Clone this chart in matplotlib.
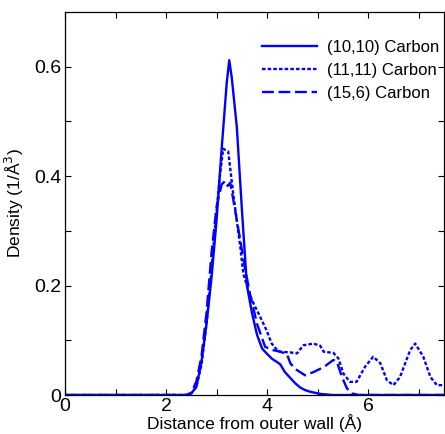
import matplotlib
matplotlib.use("Agg")
import matplotlib.pyplot as plt
import numpy as np

plt.rcParams['font.family'] = ['Liberation Sans', 'DejaVu Sans']

# (10,10) Carbon - solid
x_1010 = [0, 2.4, 2.5, 2.6, 2.7, 2.8, 2.9, 3.0, 3.1, 3.2, 3.25, 3.3, 3.4, 3.5, 3.6, 3.7, 3.8,
          3.9, 4.0, 4.1, 4.2, 4.26, 4.35, 4.46, 4.55, 4.65, 4.75, 4.85, 5.05, 5.3, 7.5]
y_1010 = [0, 0, 0.003, 0.015, 0.06, 0.13, 0.215, 0.32, 0.45, 0.57, 0.612, 0.58, 0.49, 0.34, 0.20,
          0.15, 0.11, 0.085, 0.075, 0.066, 0.060, 0.056, 0.042, 0.031, 0.022, 0.014, 0.009, 0.006,
          0.002, 0, 0]

# (11,11) Carbon - dotted
x_1111 = [0, 2.4, 2.5, 2.6, 2.7, 2.8, 2.9, 2.97, 3.06, 3.13, 3.23, 3.33, 3.47, 3.53, 3.63, 3.70,
          3.83, 3.99, 4.09, 4.2, 4.26, 4.45, 4.59, 4.72, 4.92, 5.05, 5.12, 5.31, 5.41, 5.51, 5.64,
          5.77, 5.94, 6.10, 6.24, 6.37, 6.50, 6.63, 6.83, 6.93, 7.09, 7.23, 7.36, 7.52]
y_1111 = [0, 0, 0.003, 0.015, 0.055, 0.13, 0.23, 0.306, 0.397, 0.45, 0.445, 0.367, 0.27, 0.221,
          0.191, 0.173, 0.149, 0.118, 0.094, 0.082, 0.079, 0.078, 0.076, 0.091, 0.094, 0.09,
          0.079, 0.077, 0.067, 0.039, 0.024, 0.024, 0.052, 0.070, 0.058, 0.027, 0.018, 0.033,
          0.082, 0.094, 0.070, 0.033, 0.018, 0.018]

# (15,6) Carbon - dashed
x_156 = [0, 2.4, 2.5, 2.6, 2.7, 2.8, 2.9, 3.0, 3.1, 3.17, 3.22, 3.27, 3.37, 3.47, 3.56, 3.66,
         3.8, 3.96, 4.12, 4.26, 4.39, 4.46, 4.55, 4.65, 4.75, 4.92, 5.12, 5.31, 5.38, 5.48,
         5.58, 5.68, 5.8, 7.5]
y_156 = [0, 0, 0.004, 0.025, 0.07, 0.15, 0.26, 0.345, 0.385, 0.391, 0.382, 0.388, 0.336, 0.282,
         0.233, 0.185, 0.13, 0.088, 0.082, 0.079, 0.075, 0.058, 0.048, 0.042, 0.036, 0.042,
         0.051, 0.064, 0.061, 0.033, 0.012, 0.003, 0, 0]

labels = ['(10,10) Carbon', '(11,11) Carbon', '(15,6) Carbon']
xticks = [0, 1, 2, 3, 4, 5, 6, 7]
xticklabels = ['0', '', '2', '', '4', '', '6', '']
yticks = [0, 0.1, 0.2, 0.3, 0.4, 0.5, 0.6]
yticklabels = ['0', '', '0.2', '', '0.4', '', '0.6']

fig = plt.figure(figsize=(4.45, 4.34), dpi=100)
ax = fig.add_axes([65/445, 1-395/434, 379/445, 383/434])
blue = '#0000ff'
ax.plot(x_1010, y_1010, color=blue, lw=1.7, ls='-', label=labels[0])
ax.plot(x_1111, y_1111, color=blue, lw=1.7, ls=(0, (1.5, 0.9)), label=labels[1])
ax.plot(x_156, y_156, color=blue, lw=1.7, ls=(0, (5, 2)), label=labels[2])

ax.set_xlim(0, 7.5)
ax.set_ylim(0, 0.7)
ax.set_xticks(xticks)
ax.set_xticklabels(xticklabels)
ax.set_yticks(yticks)
ax.set_yticklabels(yticklabels)
ax.tick_params(direction='in', top=True, right=True, length=4, width=0.8,
               labelsize=14, pad=2.5)
for s in ax.spines.values():
    s.set_linewidth(0.9)

ax.set_xlabel('Distance from outer wall (Å)', fontsize=12.5, labelpad=-1)
ax.set_ylabel('Density (1/Å$^3$)', fontsize=12.5, labelpad=6)

leg = ax.legend(loc='upper left', bbox_to_anchor=((261.7-65)/379, (395-40)/383),
                frameon=False, fontsize=12, handlelength=3.3, handletextpad=0.6,
                labelspacing=0.47, borderpad=0, borderaxespad=0)

fig.savefig('out.png', dpi=100)
